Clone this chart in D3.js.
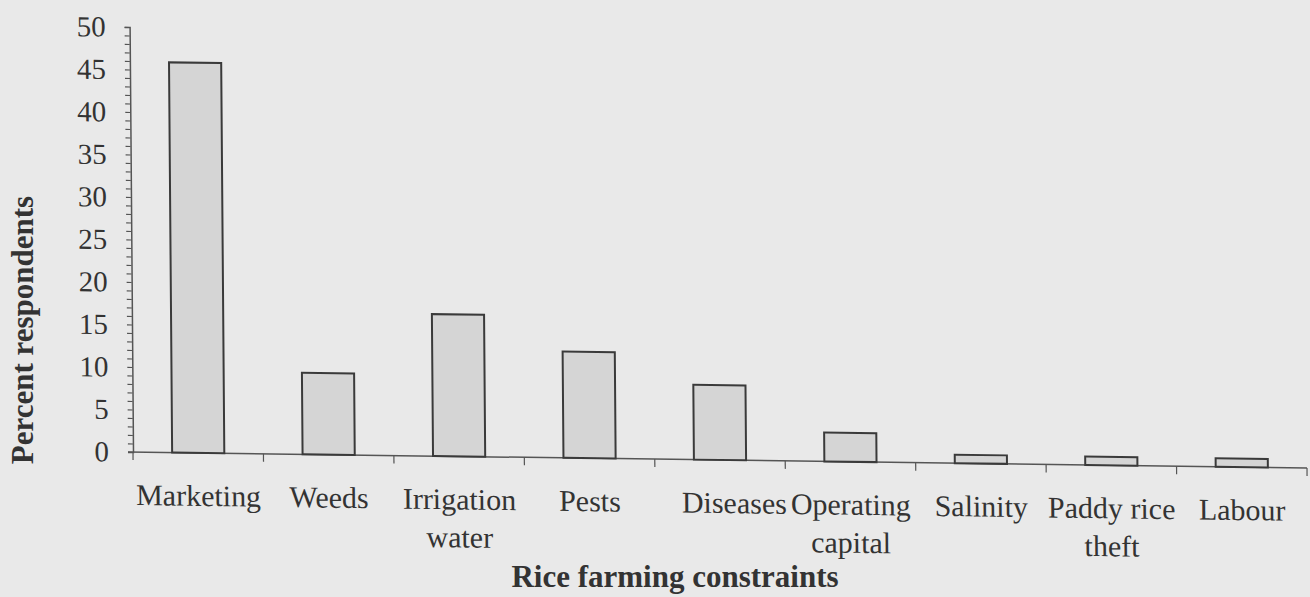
<!DOCTYPE html>
<html>
<head>
<meta charset="utf-8">
<script src="https://cdn.jsdelivr.net/npm/d3@7"></script>
<style>
  html, body { margin: 0; padding: 0; background: #e9e9e9; }
  svg { display: block; }
  text { font-family: "Liberation Serif", "Times New Roman", serif; fill: #333; }
</style>
</head>
<body>
<div id="chart-area"></div>
<script>
// data
var categories = ["Marketing", "Weeds", "Irrigation\nwater", "Pests", "Diseases",
                  "Operating\ncapital", "Salinity", "Paddy rice\ntheft", "Labour"]
var percents = [45.9, 9.6, 16.7, 12.5, 8.8, 3.4, 1.0, 1.0, 1.0]
var yTicks = [0, 5, 10, 15, 20, 25, 30, 35, 40, 45, 50]
var yMinorTicks = d3.range(0, 51, 1)

var svgWidth = 1310, svgHeight = 597
var x0 = 133, x1 = 1307, yBase = 452, yTop = 27

var svg = d3.select("#chart-area").append("svg")
    .attr("width", svgWidth)
    .attr("height", svgHeight)

// the scan is slightly skewed, so the whole chart leans a bit
var chartGroup = svg.append("g")
    .attr("transform", `translate(${x0},${yBase}) matrix(1,0.0136,0.008,1,0,0) translate(${-x0},${-yBase})`)

var xScale = d3.scaleBand()
    .domain(categories)
    .range([x0, x1])
    .padding(0)

var yScale = d3.scaleLinear()
    .domain([0, 50])
    .range([yBase, yTop])

// y axis: minor ticks every 1, labels every 5
var yAxis = chartGroup.append("g")
    .attr("transform", `translate(${x0},0)`)
    .call(d3.axisLeft(yScale).tickValues(yMinorTicks).tickSize(5).tickFormat(""))
yAxis.select(".domain").attr("stroke", "#555").attr("stroke-width", 1.5)
yAxis.selectAll(".tick line").attr("stroke", "#555").attr("stroke-width", 1.2)

chartGroup.append("g")
    .selectAll("text")
    .data(yTicks)
    .enter().append("text")
    .attr("x", x0 - 24)
    .attr("y", d => yScale(d))
    .attr("dy", "0.34em")
    .attr("text-anchor", "end")
    .attr("font-size", 29)
    .text(d => d)

// x axis line with ticks at band edges
chartGroup.append("line")
    .attr("x1", x0 - 5).attr("x2", x1)
    .attr("y1", yBase).attr("y2", yBase)
    .attr("stroke", "#555").attr("stroke-width", 1.5)

var edges = categories.map(c => xScale(c)).concat([x1])
chartGroup.append("g")
    .selectAll("line")
    .data(edges)
    .enter().append("line")
    .attr("x1", d => d).attr("x2", d => d)
    .attr("y1", yBase).attr("y2", yBase + 8)
    .attr("stroke", "#555").attr("stroke-width", 1.2)

// bars
chartGroup.selectAll(".bar")
    .data(percents)
    .enter().append("rect")
    .attr("class", "bar")
    .attr("x", (d, i) => xScale(categories[i]) + xScale.bandwidth() * 0.3)
    .attr("width", xScale.bandwidth() * 0.4)
    .attr("y", d => yScale(d))
    .attr("height", d => yBase - yScale(d))
    .attr("fill", "#d5d5d5")
    .attr("stroke", "#3a3a3a")
    .attr("stroke-width", 2)

// category labels
var labels = chartGroup.append("g")
    .selectAll("text")
    .data(categories)
    .enter().append("text")
    .attr("text-anchor", "middle")
    .attr("font-size", 30)
    .attr("transform", d => {
        var cx = xScale(d) + xScale.bandwidth() / 2
        if (d === "Diseases") cx += 14
        return `translate(${cx},${yBase + 53})`
    })
labels.selectAll("tspan")
    .data(d => d.split("\n"))
    .enter().append("tspan")
    .attr("x", 0)
    .attr("y", (d, i) => i * 38)
    .text(d => d)

// axis titles
svg.append("text")
    .attr("x", 675)
    .attr("y", 587)
    .attr("text-anchor", "middle")
    .attr("font-size", 31)
    .attr("font-weight", "bold")
    .text("Rice farming constraints")

svg.append("text")
    .attr("transform", "translate(33,330) rotate(-90)")
    .attr("text-anchor", "middle")
    .attr("font-size", 31)
    .attr("font-weight", "bold")
    .text("Percent respondents")
</script>
</body>
</html>
